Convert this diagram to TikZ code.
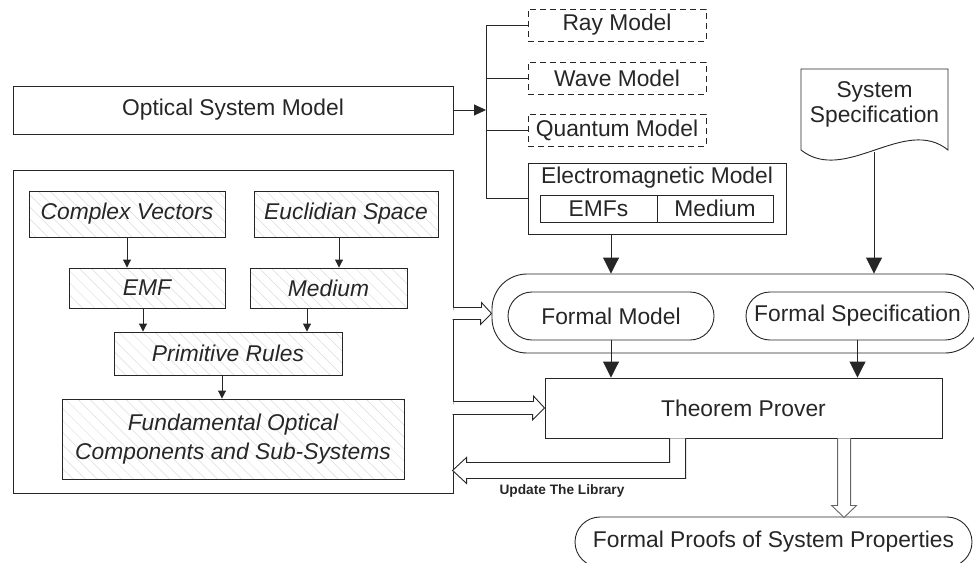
\documentclass[tikz,border=0pt]{standalone}
\usepackage{fontspec}
\setmainfont{Liberation Sans}
\usetikzlibrary{calc,arrows.meta,patterns.meta}

\begin{document}
\begin{tikzpicture}[x=1pt,y=-1pt,line width=0.9pt,color=black!85,
    txt/.style={font=\fontsize{22.8}{27}\selectfont},
    box/.style={draw,rectangle,inner sep=0pt,txt},
    dashbox/.style={box,dash pattern=on 6pt off 4pt},
    hatch/.style={box,font=\fontsize{22.8}{29}\selectfont\itshape,
      pattern={Lines[angle=-45,distance=8.5pt,line width=0.5pt]},pattern color=black!14},
    pill/.style={box,rounded corners=24pt},
    hollow/.style={draw,fill=white},
    arr/.style={-{Triangle[length=8pt,width=8pt]}},
    bigarr/.style={-{Triangle[length=16pt,width=16pt]}}]
  \useasboundingbox (0,0) rectangle (974,562);

  % library side
  \node[box,minimum width=440pt,minimum height=48pt] (osm) at (233,110) {Optical System Model};
  \node[box,minimum width=440pt,minimum height=323pt] (lib) at (233,331.5) {};
  \node[hatch,minimum width=196pt,minimum height=46pt] (cv) at (127,214) {Complex Vectors};
  \node[hatch,minimum width=184pt,minimum height=46pt] (eu) at (346,214) {Euclidian Space};
  \node[hatch,minimum width=156pt,minimum height=40pt] (emf) at (147,288) {EMF};
  \node[hatch,minimum width=157pt,minimum height=40pt] (med) at (328.5,288) {Medium};
  \node[hatch,minimum width=228pt,minimum height=43pt] (prim) at (228,353.5) {Primitive Rules};
  \node[hatch,minimum width=342pt,minimum height=80pt,align=center] (fund) at (233,439)
    {Fundamental Optical\\Components and Sub-Systems};
  \draw[arr] (cv.south) -- (cv.south |- emf.north);
  \draw[arr] ([xshift=-7pt]eu.south) -- ([xshift=-7pt]eu.south |- med.north);
  \draw[arr] ([xshift=-4pt]emf.south) -- ([xshift=-4pt]emf.south |- prim.north);
  \draw[arr] ([xshift=-21.5pt]med.south) -- ([xshift=-21.5pt]med.south |- prim.north);
  \draw[arr] ([xshift=-6pt]prim.south) -- ([xshift=-6pt]prim.south |- fund.north);

  % models
  \node[dashbox,minimum width=178pt,minimum height=32pt] (ray) at (617,25) {Ray Model};
  \node[dashbox,minimum width=178pt,minimum height=32pt] (wave) at (617,78) {Wave Model};
  \node[dashbox,minimum width=178pt,minimum height=32pt] (quant) at (617,130) {Quantum Model};
  \node[box,minimum width=258pt,minimum height=71pt] (em) at (657,198.5) {};
  \node[txt] (emtitle) at (657,178) {Electromagnetic Model};
  \node[box,minimum width=117pt,minimum height=27pt] (emfs) at (598.5,208.5) {EMFs};
  \node[box,minimum width=116pt,minimum height=27pt] (medium) at (715,208.5) {Medium};
  \coordinate (bus) at (486,110);
  \draw[-{Triangle[length=12pt,width=11pt]}] (osm.east) -- (bus);
  \draw (bus |- ray.west) -- (bus |- em.west);
  \foreach \m in {ray,wave,quant,em}
    \draw (bus |- \m.west) -- (\m.west);

  % specification
  \draw (801,150) -- (801,69) -- (948,69) -- (948,150) .. controls (905,115) and (845,185) .. (801,150);
  \node[align=center,font=\fontsize{22.8}{25}\selectfont] (spec) at (874.5,104) {System\\Specification};
  \coordinate (specbot) at (874,152);

  % formal part
  \node[draw,rounded corners=35pt,minimum width=488pt,minimum height=79pt,inner sep=0pt] (cont) at (736,313.5) {};
  \node[pill,minimum width=206pt,minimum height=48pt] (fm) at (611,316) {Formal Model};
  \node[pill,minimum width=223pt,minimum height=48pt] (fs) at (857.5,316) {Formal Specification};
  \node[box,minimum width=397pt,minimum height=60pt] (tp) at (743.5,408) {Theorem Prover};
  \node[pill,rounded corners=25pt,minimum width=397pt,minimum height=50pt] (proofs) at (773.5,542)
    {Formal Proofs of System Properties};
  \draw[bigarr] (fm.north |- em.south) -- (fm.north |- cont.north);
  \draw[bigarr] (specbot) -- (specbot |- cont.north);
  \draw[bigarr] (fm.south) -- (fm.south |- tp.north);
  \draw[bigarr] (fs.south) -- (fs.south |- tp.north);

  % hollow arrows
  \draw[hollow] (lib.east |- cont.west) ++(0,-6) -- ++(28,0) -- ++(0,-5) -- (cont.west)
    -- ++(-11,11) -- ++(0,-5) -- ++(-28,0);
  \draw[hollow] (lib.east |- tp.west) ++(0,-6.5) -- ++(80,0) -- ++(0,-5.5) -- (tp.west)
    -- ++(-12,12) -- ++(0,-5.5) -- ++(-80,0);
  \draw[hollow] ($(tp.south west)+(125,0)$) -- ++(0,24) -- ++(-203,0) -- ++(0,-5) -- ++(-14,13)
    -- ++(14,13) -- ++(0,-5) -- ++(219,0) -- ++(0,-40);
  \draw[hollow,draw=black!60] ($(tp.south west)+(293,0)$) -- ++(0,67) -- ++(-6,0) -- ++(12.5,12)
    -- ++(12.5,-12) -- ++(-6,0) -- ++(0,-67);
  \node[font=\fontsize{13.7}{16}\selectfont\bfseries] (upd) at (562,491) {Update The Library};
\end{tikzpicture}
\end{document}
